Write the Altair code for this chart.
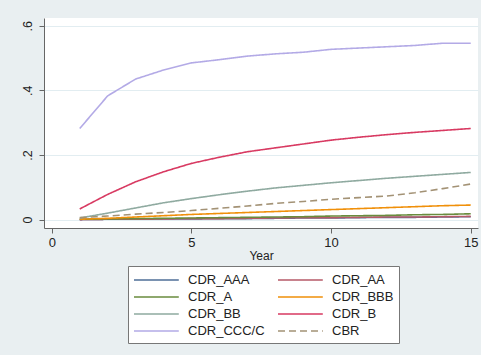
import altair as alt
import pandas as pd

# Cumulative default rates by rating grade, years 1-15
years = list(range(1, 16))
cdr_aaa = [0.000, 0.001, 0.001, 0.002, 0.002, 0.003, 0.003, 0.004, 0.005, 0.005, 0.006, 0.007, 0.007, 0.008, 0.009]
cdr_aa = [0.000, 0.001, 0.001, 0.002, 0.003, 0.003, 0.004, 0.005, 0.006, 0.006, 0.007, 0.008, 0.008, 0.009, 0.010]
cdr_a = [0.001, 0.002, 0.003, 0.004, 0.005, 0.006, 0.007, 0.008, 0.009, 0.011, 0.012, 0.013, 0.015, 0.016, 0.018]
cdr_bbb = [0.001, 0.004, 0.008, 0.012, 0.016, 0.019, 0.022, 0.025, 0.028, 0.031, 0.034, 0.037, 0.040, 0.043, 0.045]
cdr_bb = [0.005, 0.020, 0.036, 0.052, 0.065, 0.077, 0.088, 0.098, 0.106, 0.114, 0.121, 0.128, 0.134, 0.140, 0.146]
cdr_b = [0.033, 0.078, 0.117, 0.148, 0.174, 0.193, 0.210, 0.222, 0.234, 0.246, 0.255, 0.263, 0.270, 0.276, 0.282]
cdr_ccc = [0.282, 0.383, 0.435, 0.463, 0.485, 0.495, 0.506, 0.513, 0.518, 0.527, 0.531, 0.535, 0.539, 0.546, 0.546]
cbr = [0.006, 0.011, 0.017, 0.022, 0.028, 0.035, 0.042, 0.050, 0.056, 0.063, 0.068, 0.073, 0.083, 0.096, 0.110]

series_names = ["CDR_AAA", "CDR_AA", "CDR_A", "CDR_BBB", "CDR_BB", "CDR_B", "CDR_CCC/C", "CBR"]
series_values = [cdr_aaa, cdr_aa, cdr_a, cdr_bbb, cdr_bb, cdr_b, cdr_ccc, cbr]
series_colors = ["#4f6f98", "#b65a68", "#6a8c3e", "#f0900a", "#8faaa0", "#d83a62", "#b3aae6", "#a39275"]
series_dash = [[1, 0]] * 7 + [[7, 4]]

rows = []
for name, vals in zip(series_names, series_values):
    for yr, v in zip(years, vals):
        rows.append({"Year": yr, "value": v, "series": name})
df = pd.DataFrame(rows)

font = "Liberation Sans"

chart = (
    alt.Chart(df)
    .mark_line(strokeWidth=1.6, clip=True)
    .encode(
        x=alt.X(
            "Year:Q",
            scale=alt.Scale(domain=[-0.28, 15.26], nice=False, zero=False),
            axis=alt.Axis(
                values=[0, 5, 10, 15],
                format="d",
                grid=False,
                title="Year",
                titleFontWeight="normal",
                titleFontSize=12,
                titlePadding=1,
                labelFontSize=13,
                labelPadding=3,
                tickSize=5,
            ),
        ),
        y=alt.Y(
            "value:Q",
            scale=alt.Scale(domain=[-0.026, 0.624], nice=False, zero=False),
            axis=alt.Axis(
                values=[0, 0.2, 0.4, 0.6],
                labelExpr="datum.value == 0 ? '0' : replace(format(datum.value, '.1f'), '0.', '.')",
                title=None,
                labelAngle=270,
                labelAlign="center",
                labelBaseline="bottom",
                labelFontSize=12.5,
                labelPadding=5,
                tickSize=5,
                grid=True,
                gridColor="#e2edf1",
                gridWidth=1,
            ),
        ),
        color=alt.Color(
            "series:N",
            sort=series_names,
            scale=alt.Scale(domain=series_names, range=series_colors),
            legend=alt.Legend(
                title=None,
                orient="none",
                legendX=84,
                legendY=248,
                columns=2,
                direction="horizontal",
                symbolType="M-1,0L4.6,0",
                symbolSize=256,
                symbolStrokeWidth=1.6,
                labelFontSize=13,
                labelOffset=37,
                labelLimit=200,
                columnPadding=9,
                rowPadding=1,
                padding=5,
                strokeColor="#777777",
                fillColor="#ffffff",
                gridAlign="each",
            ),
        ),
        strokeDash=alt.StrokeDash(
            "series:N",
            sort=series_names,
            scale=alt.Scale(domain=series_names, range=series_dash),
            legend=None,
        ),
    )
    .properties(
        width=434,
        height=210,
        background="#e9eff1",
        padding={"left": 44, "top": 18, "right": 3, "bottom": 127},
        autosize=alt.AutoSizeParams(type="none"),
    )
    .configure_view(fill="white", stroke=None)
    .configure_axis(
        labelFont=font,
        titleFont=font,
        labelColor="#222222",
        titleColor="#222222",
        domainColor="#666666",
        tickColor="#666666",
    )
    .configure_legend(
        labelFont=font,
        labelColor="#222222",
        strokeColor="#777777",
        fillColor="#ffffff",
    )
)

chart.save("out.html", embed_options={"renderer": "svg", "actions": False})
